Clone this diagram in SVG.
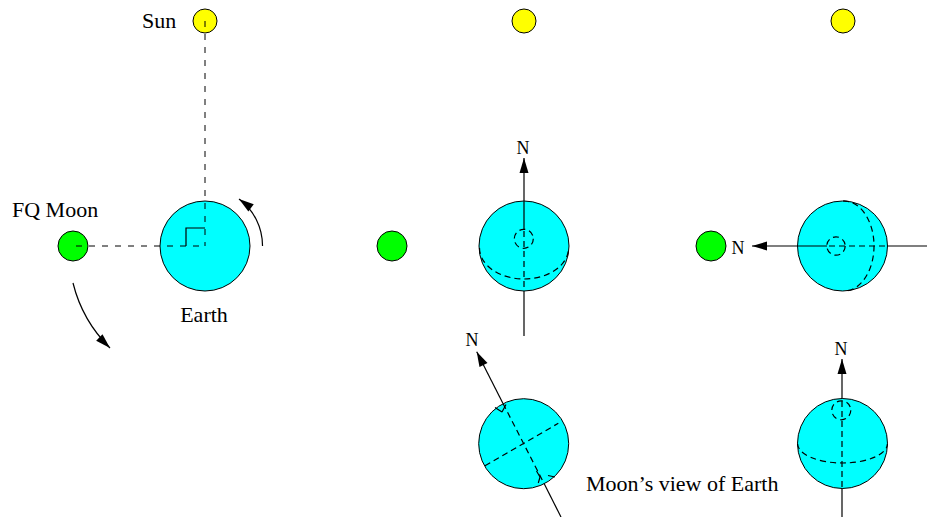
<svg xmlns="http://www.w3.org/2000/svg" width="927" height="517" viewBox="0 0 927 517">
  <style>
    .sun { fill: #ffff00; stroke: #000; stroke-width: 1; }
    .moon { fill: #00ff00; stroke: #000; stroke-width: 1; }
    .earth { fill: #00ffff; stroke: #000; stroke-width: 1; }
    .lbl { font-family: "Liberation Serif", "Times New Roman", serif; font-size: 22px; fill: #000; }
    .nlbl { font-family: "Liberation Serif", "Times New Roman", serif; font-size: 18px; fill: #000; text-anchor: middle; }
    .guide { fill: none; stroke: #000; stroke-width: 1; stroke-dasharray: 6 7; }
    .solid { fill: none; stroke: #000; stroke-width: 1.2; }
    .hidden { fill: none; stroke: #000; stroke-width: 1.2; stroke-dasharray: 6 4; }
    .arrow { fill: none; stroke: #000; stroke-width: 1.2; marker-end: url(#head); }
  </style>
  <defs>
    <marker id="head" viewBox="-16 -6 17 12" markerWidth="17" markerHeight="12" refX="0" refY="0" orient="auto" markerUnits="userSpaceOnUse">
      <path d="M0,0 L-15,-4.5 L-15,4.5 Z" fill="#000"/>
    </marker>
  </defs>

  <!-- Suns -->
  <g id="sun-1">
    <circle class="sun" cx="205" cy="21" r="12"/>
    <text class="lbl" x="142" y="28">Sun</text>
  </g>
  <g id="sun-2">
    <circle class="sun" cx="524" cy="21" r="12"/>
  </g>
  <g id="sun-3">
    <circle class="sun" cx="843" cy="21" r="12"/>
  </g>

  <!-- Moons -->
  <g id="moon-1">
    <circle class="moon" cx="73" cy="246" r="15"/>
    <text class="lbl" x="12" y="217">FQ Moon</text>
  </g>
  <g id="moon-2">
    <circle class="moon" cx="392" cy="246" r="15"/>
  </g>
  <g id="moon-3">
    <circle class="moon" cx="711" cy="246" r="15"/>
  </g>

  <!-- Earths -->
  <g id="earth-1">
    <circle class="earth" cx="205" cy="246" r="45"/>
    <text class="lbl" x="204" y="322" text-anchor="middle">Earth</text>
  </g>
  <g id="earth-2">
    <circle class="earth" cx="524" cy="246" r="45"/>
    <circle class="hidden" cx="523.8" cy="238.8" r="9.5"/>
    <path class="hidden" d="M479.5 248 A44.5 31 0 0 0 568.5 248"/>
  </g>
  <g id="earth-3">
    <circle class="earth" cx="842.5" cy="246" r="45"/>
    <circle class="hidden" cx="836" cy="246" r="9.2"/>
    <path class="hidden" d="M843 201 A30 45 0 0 1 845 291"/>
  </g>
  <g id="earth-4">
    <circle class="earth" cx="523.7" cy="443.7" r="45"/>
    <path class="hidden" d="M485 465.7 L558.3 423.3"/>
    <path class="solid" d="M495 407.5 L502 412 M502 412 L506 404.5"/>
    <path class="solid" d="M536.5 471 L540 477 L538.3 483 M548 475.5 L555 477"/>
  </g>
  <g id="earth-5">
    <circle class="earth" cx="842.5" cy="443.5" r="45"/>
    <circle class="hidden" cx="841.3" cy="410.3" r="9.5"/>
    <path class="hidden" d="M797.5 443.5 A45 19.5 0 0 0 887.5 443.5"/>
  </g>

  <g id="caption">
    <text class="lbl" x="586" y="491">Moon’s view of Earth</text>
  </g>

  <!-- North-pole labels -->
  <g id="n-labels">
    <text class="nlbl" x="523" y="154">N</text>
    <text class="nlbl" x="738" y="254">N</text>
    <text class="nlbl" x="472" y="346">N</text>
    <text class="nlbl" x="841" y="355">N</text>
  </g>

  <!-- Connectors -->
  <g id="connectors">
    <!-- sight lines and right angle -->
    <line class="guide" x1="205" y1="21" x2="205" y2="246"/>
    <line class="guide" x1="76" y1="246" x2="205" y2="246"/>
    <path class="solid" d="M186 246 L186 228 L205 228"/>
    <!-- Earth spin and lunar orbit -->
    <path class="arrow" d="M262.5 246 A58 58 0 0 0 239 199"/>
    <path class="arrow" d="M73 283 A138 138 0 0 0 110 348"/>

    <!-- axis, column 2 top -->
    <line class="arrow" x1="524" y1="229" x2="524" y2="158"/>
    <line class="hidden" x1="524" y1="231" x2="524" y2="291"/>
    <line class="solid" x1="524" y1="291" x2="524" y2="336"/>

    <!-- axis, column 3 top -->
    <line class="arrow" x1="827" y1="246" x2="752" y2="246"/>
    <line class="hidden" x1="829" y1="246" x2="887.5" y2="246"/>
    <line class="solid" x1="887.5" y1="246" x2="927" y2="246"/>

    <!-- axis, tilted view -->
    <line class="arrow" x1="503" y1="403.4" x2="476.7" y2="351.7"/>
    <line class="hidden" x1="503" y1="403.4" x2="544.2" y2="483.8"/>
    <line class="solid" x1="544.2" y1="483.8" x2="561" y2="517"/>

    <!-- axis, column 3 bottom -->
    <line class="arrow" x1="842" y1="399" x2="842" y2="359"/>
    <line class="hidden" x1="842" y1="401" x2="842" y2="488"/>
    <line class="solid" x1="842" y1="488" x2="842" y2="517"/>
  </g>
</svg>
